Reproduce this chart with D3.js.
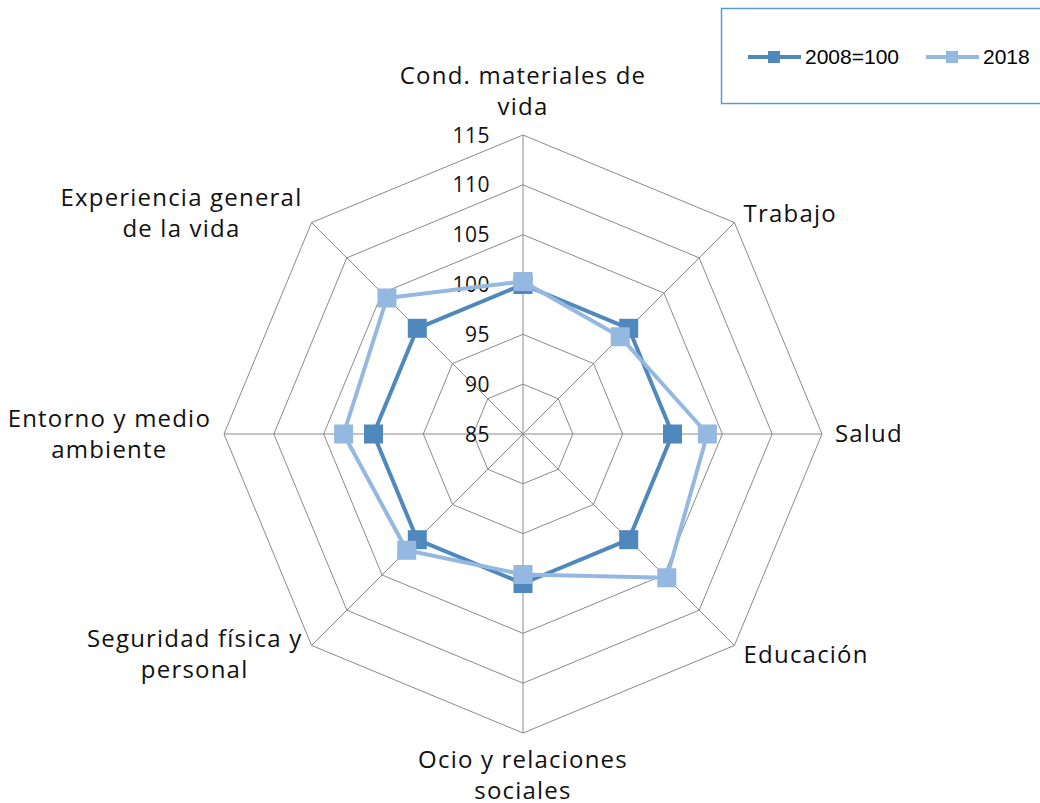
<!DOCTYPE html>
<html>
<head>
<meta charset="utf-8">
<script src="https://cdn.jsdelivr.net/npm/d3@7"></script>
<style>
  body { margin: 0; background: #fff; }
  svg { display: block; }
</style>
</head>
<body>
<svg width="1040" height="803"></svg>
<script>
// categories, clockwise from top
const categories = [
  ["Cond. materiales de", "vida"],
  ["Trabajo"],
  ["Salud"],
  ["Educación"],
  ["Ocio y relaciones", "sociales"],
  ["Seguridad física y", "personal"],
  ["Entorno y medio", "ambiente"],
  ["Experiencia general", "de la vida"]
];
const base2008 = [100, 100, 100, 100, 100, 100, 100, 100];
const values2018 = [100.3, 98.8, 103.5, 105.4, 99.1, 101.5, 103, 104.3];
const ticks = [85, 90, 95, 100, 105, 110, 115];

const series = [
  { name: "2008=100", values: base2008, color: "#4F88BD" },
  { name: "2018", values: values2018, color: "#95B8E1" }
];

const svg = d3.select("svg");
const cx = 523, cy = 434;
const radius = 299;
const labelFont = "'Open Sans', Lato, sans-serif";

const r = d3.scaleLinear().domain([85, 115]).range([0, radius]);
const angle = d3.scaleLinear().domain([0, categories.length]).range([0, 2 * Math.PI]);

function pt(i, v) {
  const a = angle(i);
  return [cx + r(v) * Math.sin(a), cy - r(v) * Math.cos(a)];
}

const grid = svg.append("g").attr("class", "grid");

// rings
ticks.slice(1).forEach(function (t) {
  const pts = categories.map(function (c, i) { return pt(i, t); });
  grid.append("polygon")
    .attr("points", pts.map(function (p) { return p.join(","); }).join(" "))
    .attr("fill", "none")
    .attr("stroke", "#8a8a8a")
    .attr("stroke-width", 1);
});

// spokes
categories.forEach(function (c, i) {
  const p = pt(i, 115);
  grid.append("line")
    .attr("x1", cx).attr("y1", cy)
    .attr("x2", p[0]).attr("y2", p[1])
    .attr("stroke", "#8a8a8a")
    .attr("stroke-width", 1);
});

// tick labels
svg.append("g").selectAll("text")
  .data(ticks)
  .enter()
  .append("text")
  .attr("x", cx - 33)
  .attr("y", function (d) { return cy - r(d); })
  .attr("dy", "0.36em")
  .attr("text-anchor", "end")
  .style("font-family", labelFont)
  .style("font-size", "21px")
  .style("letter-spacing", "0.5px")
  .attr("fill", "#111")
  .text(function (d) { return d; });

// series
const line = d3.line().curve(d3.curveLinearClosed);
series.forEach(function (s) {
  const pts = s.values.map(function (v, i) { return pt(i, v); });
  svg.append("path")
    .attr("d", line(pts))
    .attr("fill", "none")
    .attr("stroke", s.color)
    .attr("stroke-width", 4)
    .attr("stroke-linejoin", "round");
  svg.append("g").selectAll("rect")
    .data(pts)
    .enter()
    .append("rect")
    .attr("x", function (d) { return d[0] - 9.5; })
    .attr("y", function (d) { return d[1] - 9.5; })
    .attr("width", 19)
    .attr("height", 19)
    .attr("fill", s.color);
});

// category labels
const lineH = 31;
const labels = svg.append("g");
categories.forEach(function (lines, i) {
  const p = pt(i, 116.3);
  const a = angle(i);
  const sx = Math.round(Math.sin(a) * 1000) / 1000;
  const sy = -Math.round(Math.cos(a) * 1000) / 1000;
  const g = labels.append("g");
  const texts = lines.map(function (l, k) {
    return g.append("text")
      .attr("text-anchor", "middle")
      .style("font-family", labelFont)
      .style("font-size", "24px")
      .style("letter-spacing", "1.2px")
      .attr("fill", "#111")
      .text(l);
  });
  const w = d3.max(texts, function (t) { return t.node().getComputedTextLength(); });
  const h = lines.length * lineH;
  let bx = p[0], by = p[1] - h / 2;
  if (sx > 0.01) bx = p[0] + w / 2;
  if (sx < -0.01) bx = p[0] - w / 2;
  if (Math.abs(sx) < 0.01) by = sy < 0 ? p[1] - h : p[1] - 2;
  texts.forEach(function (t, k) {
    t.attr("x", bx).attr("y", by + lineH * k + lineH / 2).attr("dy", "0.35em");
  });
});

// legend
const legend = svg.append("g");
legend.append("rect")
  .attr("x", 721.5).attr("y", 8.5)
  .attr("width", 330).attr("height", 95)
  .attr("fill", "#fff")
  .attr("stroke", "#5B9BD5")
  .attr("stroke-width", 1.5);
const legendX = [748, 926];
series.forEach(function (s, i) {
  const x0 = legendX[i];
  legend.append("line")
    .attr("x1", x0).attr("x2", x0 + 53)
    .attr("y1", 57).attr("y2", 57)
    .attr("stroke", s.color)
    .attr("stroke-width", 4);
  legend.append("rect")
    .attr("x", x0 + 20).attr("y", 51)
    .attr("width", 12).attr("height", 12)
    .attr("fill", s.color);
  legend.append("text")
    .attr("x", x0 + 57).attr("y", 57)
    .attr("dy", "0.35em")
    .style("font-family", "'Liberation Sans', Arial, sans-serif")
    .style("font-size", "21px")
    .attr("fill", "#000")
    .text(s.name);
});
</script>
</body>
</html>
